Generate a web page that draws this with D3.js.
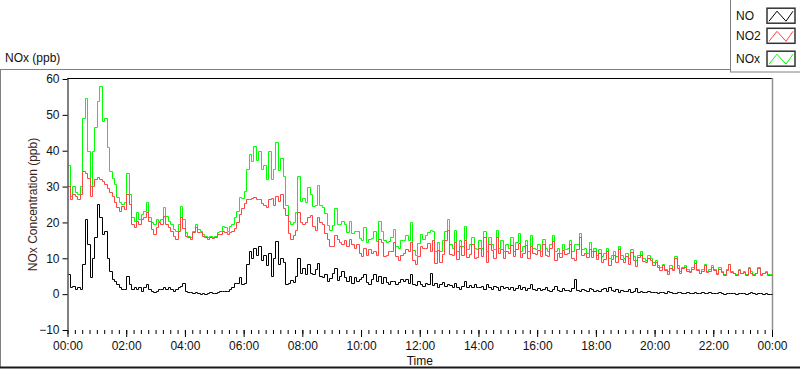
<!DOCTYPE html>
<html><head><meta charset="utf-8">
<script src="https://cdn.jsdelivr.net/npm/d3@7"></script>
<style>
body{margin:0;background:#fff;}
svg{display:block;font-family:"Liberation Sans",Arial,sans-serif;}
</style></head><body>
<svg id="c" width="800" height="369"></svg>
<script>
// sampling step of the series, minutes from 00:00
const stepMinutes = 5;

const NOx = [
36,27.4,30.2,28.4,27.9,30.2,49,54.8,40,30.2,40,46.5,
53.9,58,48.3,49.2,40.9,34.4,32.5,30.7,27,25.6,25.1,25.6,
33.9,27.9,21.4,20.4,22.8,20.9,22.3,23.2,25.6,21.4,20,19.5,
20.9,20.5,21,24.2,21.8,20.4,19.5,18.1,17.7,19.5,24.6,20.9,
17.2,16.3,15.8,17.7,19.5,18.1,17.7,16.7,16.3,15.8,16.3,16.0,
16.3,17.2,17.7,19,18.6,17.7,19,19.5,21.5,23.2,27,26.9,
28.8,35,39,37,41.4,37.5,40,35,36,32,40,32,
35,42.3,34.5,38,33,25,20.5,19.5,20,23,33,26,
26.9,25.6,29.9,28,24.6,25,30.3,25,24.2,22.6,19.2,18,
19.3,23.9,19.5,19.5,20.5,19.7,17.2,20.5,17,17.7,17.7,15.7,
15.2,18.6,14.5,15.3,15.7,17.6,14.7,20.5,17.5,15.2,14.5,14.8,
15.8,18.2,13.3,13,15.2,15.2,16.6,15.2,20.1,12.3,11,14.2,
16.7,15.3,16.5,17.2,18,17.7,12.1,14.5,12,15,17.5,20.9,
14,13,18,12,15,13.5,19,12.5,14,16,13,12.5,
15,13,17.5,12,16,14,12.5,18,13,15,12,14,
13,16,12,14.5,17,12,13.5,15,12,16.5,13,12.5,
14,12,15.5,13,12,14,16.5,12,13,11.5,14,12.5,
13,15,12,14,14,17,12.5,13,11.5,14.5,12,13,
11,12.5,10.5,11.5,13,10,11,12,10.5,13.5,11,10,
11.5,10,12.5,10.5,9.5,11,12,10,9.5,11,10,9,
9.5,8,7.5,8.5,7,6.5,8,7,10.5,8,6.5,7.5,
8,7,6.5,7.5,9.5,7,6,7,8.5,6.5,7,8,
7,6,7.5,6.5,5.5,7,8.5,6.5,6,5.5,7,6,
6.5,5.5,7.5,6.5,5.5,6,7.5,5.5,6,6.5,5.5,5.5,
5.8];

const NO2 = [
30.2,26.5,27.9,27.4,26.5,27.9,34.4,33.9,32.5,27.4,30.2,32.1,
32.7,32,31.6,30.7,29.7,28.4,27.4,25.6,24.2,23.2,24.6,23.7,
27.9,25.1,19.5,18.6,20.4,19.5,20.9,21.4,22.8,20.4,18.1,16.7,
18.6,20,19.5,21.8,19.5,18.6,17.7,16.3,15.3,17.7,21.5,18.5,
16.3,15.8,15.3,17.2,18.6,17.2,17.2,16.3,15.8,15.5,16,15.7,
16,16.7,16.8,17.5,17.2,16.8,17.2,17.5,18.5,20,22.3,24,
25.5,26.5,26.5,26.9,27.2,26.5,26.5,25.5,25,24.2,26.5,26.9,
25,27.5,26,28,24,22,17,15.5,16.5,18,23,20,
19.5,20,21.5,22,19,18,21.5,20,19.5,17,15.5,13.5,
13.5,16.5,15.5,14.5,14,15,13.5,15.5,14,13,14,11.5,
10.5,13,11,12.5,11.5,12,11,15.5,14.5,10.5,11,12,
12,14.5,10.5,9.5,11,11.5,12.5,12,14.5,9.5,8.5,10.5,
13.5,12.8,13,14.2,12,15,8.8,12.3,9,11.3,15,17.8,
11.3,10.9,14.5,9.8,13.4,11,15,10.4,11.3,13.9,10,10.4,
12.9,10.5,15.9,9,13.9,12.4,10,15.9,11.6,12.5,10.2,11.9,
11.4,13.8,10.6,12.7,14.3,10.4,11.4,13.6,10.2,13.5,11.4,11.1,
12.2,10.6,13.9,10.9,10.6,12.9,14.9,9.5,11.6,10.4,12.2,11.1,
11.6,13.9,10.2,9.5,12.6,15.8,10.9,11.6,10.4,12.7,10.4,11.9,
9.7,11.5,9,9.8,12,8,9.7,11,9,12.7,9.7,9,
10.5,8.5,11.7,9.5,7.8,10.4,11,9.2,8.9,10,9.4,8.2,
9,7.6,6.8,8,6.6,5.6,7.4,6.6,10.2,7.4,5.8,7.2,
7.7,6.4,6.3,7.1,8.7,6.6,5.8,6.5,8.1,6.3,6.4,7.6,
6.8,5.7,7,6.3,5.4,6.7,8.3,6.1,5.8,5.4,6.7,5.8,
6.3,5.4,7.2,6,5.3,5.9,7.3,5.2,5.9,6.3,5.4,5.4,
5.6];

const NO = [
5.6,1.9,2.3,1.4,1.9,1.4,8.4,20.9,14,4.7,10.2,15.8,
25.1,21.4,16.7,17.7,10.2,6.5,4.2,3.7,2.8,1.9,1.4,1.4,
5.1,2.8,1.4,1.9,1.4,1.9,0.9,1.9,2.8,1.4,0.9,0.5,
0.9,1.4,1.4,1.9,1.4,1.9,1.4,0.9,1.4,1.9,2.3,3.0,
0.9,0.5,0.5,0.2,0.5,0.3,0.1,0.3,0.1,0.2,0.5,0.3,
0.3,0.5,0.9,0.9,1.0,0.9,1.4,2.0,3.0,3.2,4.7,2.8,
3.2,8.4,12,10,13,11,13.5,9.5,11,8,11.5,5,
10,14.9,8.5,10,9,2.8,3.2,4.0,3.5,5,10,6,
7.4,5.6,8.4,6,5.6,7,8.8,5,4.7,5.6,3.7,4.5,
5.8,7.4,4,5,6.5,4.7,3.7,5,3,4.7,3.7,4.2,
4.7,5.6,3.5,2.8,4.2,5.6,3.7,5,3,4.7,3.5,2.8,
3.8,3.7,2.8,3.5,4.2,3.7,4.1,3.2,5.6,2.8,2.5,3.7,
2.8,2.3,3.2,2.8,6,2.5,3.2,2.0,2.8,3.5,2.3,2.8,
2.5,1.9,3.2,2.0,1.4,2.3,3.7,1.9,2.5,1.9,2.8,1.9,
1.9,2.3,1.4,2.8,1.9,1.4,2.3,1.9,1.2,2.3,1.6,1.9,
1.4,2.0,1.2,1.6,2.5,1.4,1.9,1.2,1.6,2.8,1.4,1.2,
1.6,1.2,1.4,1.9,1.2,0.9,1.4,2.3,1.2,0.9,1.6,1.2,
1.2,0.9,1.6,4.3,1.2,0.9,1.4,1.2,0.9,1.6,1.4,0.9,
1.2,0.9,1.4,1.6,0.9,1.9,1.2,0.9,1.4,0.7,1.2,0.9,
0.9,1.4,0.7,0.9,1.6,0.5,0.9,0.7,0.5,0.9,0.5,0.7,
0.5,0.3,0.7,0.5,0.3,0.9,0.5,0.3,0.2,0.5,0.7,0.3,
0.3,0.5,0.2,0.3,0.7,0.3,0.2,0.5,0.3,0.2,0.5,0.3,
0.2,0.3,0.5,0.2,0.1,0.3,0.2,0.4,0.2,0.1,0.3,0.2,
0.2,0.1,0.3,0.5,0.2,0.1,0.2,0.3,0.1,0.2,0.1,0.1,
0.1];

const seriesNames = ["NO", "NO2", "NOx"];
const seriesColors = {NO: "#000000", NO2: "#ff4444", NOx: "#00ff00"};
const yTicks = [-10, 0, 10, 20, 30, 40, 50, 60];
const xTicks = [0, 120, 240, 360, 480, 600, 720, 840, 960, 1080, 1200, 1320, 1440];
const xTickLabels = ["00:00","02:00","04:00","06:00","08:00","10:00","12:00","14:00","16:00","18:00","20:00","22:00","00:00"];
const chartTitle = "NOx (ppb)";
const yTitle = "NOx Concentration (ppb)";
const xTitle = "Time";

const svg = d3.select("#c");
const L = 67.5, R = 772, T = 79, B = 330;
const x = d3.scaleLinear().domain([0, 1440]).range([L, R]);
const y = d3.scaleLinear().domain([-10, 60]).range([B, T]);

// outer frame
svg.append("line").attr("x1", 0).attr("x2", 730).attr("y1", 69.5).attr("y2", 69.5).attr("stroke", "#808080");
svg.append("line").attr("x1", 0.5).attr("x2", 0.5).attr("y1", 69.5).attr("y2", 367).attr("stroke", "#808080");
svg.append("line").attr("x1", 0).attr("x2", 800).attr("y1", 367.5).attr("y2", 367.5).attr("stroke", "#1a1a1a").attr("stroke-width", 2);

// title
svg.append("text").attr("x", 5).attr("y", 62).attr("font-size", 12).attr("fill", "#111").text(chartTitle);

// plot frame
svg.append("line").attr("x1", L).attr("x2", R).attr("y1", 78.5).attr("y2", 78.5).attr("stroke", "#000");
svg.append("line").attr("x1", R + 0.5).attr("x2", R + 0.5).attr("y1", 78).attr("y2", B).attr("stroke", "#909090").attr("stroke-width", 1.5);

// series (snapped to the pixel grid, like the original instrument display)
const series = {NOx: NOx, NO2: NO2, NO: NO};
const line = d3.line()
  .x((d, i) => Math.round(x(i * stepMinutes)) + 0.5)
  .y(d => Math.round(y(d)) + 0.5)
  .curve(d3.curveStepAfter);
["NOx", "NO2", "NO"].forEach(k => {
  svg.append("path").datum(series[k])
    .attr("d", line)
    .attr("fill", "none")
    .attr("stroke", seriesColors[k])
    .attr("stroke-width", 1);
});

// y axis
const yAxis = svg.append("g").attr("transform", `translate(${L},0)`)
  .call(d3.axisLeft(y).tickValues(yTicks).tickSize(5).tickSizeOuter(0).tickPadding(3));
yAxis.select(".domain").attr("stroke", "#000").attr("d", `M0.5,${78}V${B}`);
yAxis.selectAll("text").attr("font-size", 12).attr("font-family", "Liberation Sans, Arial, sans-serif").attr("fill", "#111");

// x axis minor ticks (15 min)
const minorTicks = d3.range(0, 1441, 15);
const xMinor = svg.append("g").attr("transform", `translate(0,${B})`)
  .call(d3.axisBottom(x).tickValues(minorTicks).tickSize(4).tickFormat(""));
xMinor.select(".domain").remove();
// x axis major ticks
const xAxis = svg.append("g").attr("transform", `translate(0,${B})`)
  .call(d3.axisBottom(x).tickValues(xTicks).tickSize(7).tickPadding(4)
    .tickFormat((d, i) => xTickLabels[i]));
xAxis.select(".domain").remove();
xAxis.selectAll("text").attr("font-size", 12).attr("font-family", "Liberation Sans, Arial, sans-serif").attr("fill", "#111");

// axis titles
svg.append("text").attr("x", (L + R) / 2).attr("y", 365).attr("text-anchor", "middle")
  .attr("font-size", 12).attr("fill", "#111").text(xTitle);
svg.append("text").attr("transform", `translate(37,${(T + B) / 2}) rotate(-90)`)
  .attr("text-anchor", "middle").attr("font-size", 12).attr("fill", "#3a2418").text(yTitle);

// legend
const lg = svg.append("g");
lg.append("rect").attr("x", 730.5).attr("y", -1).attr("width", 70).attr("height", 73).attr("fill", "#fff").attr("stroke", "#808080");
const rowY = [15.7, 35.8, 58.7];
seriesNames.forEach((n, i) => {
  lg.append("text").attr("x", 736).attr("y", rowY[i] + 4.5).attr("font-size", 12).attr("fill", "#111").text(n);
  const bx = 767, bw = 28, bh = 15, by = rowY[i] - bh / 2;
  lg.append("rect").attr("x", bx).attr("y", by).attr("width", bw).attr("height", bh)
    .attr("fill", "#fff").attr("stroke", "#333").attr("stroke-width", 1.5);
  lg.append("path")
    .attr("d", `M${bx + 2},${by + bh - 2}L${bx + 10},${by + 3}L${bx + 19},${by + bh - 2}L${bx + bw - 2},${by + 3}`)
    .attr("fill", "none").attr("stroke", seriesColors[n]).attr("stroke-width", 1);
});
</script>
</body></html>
